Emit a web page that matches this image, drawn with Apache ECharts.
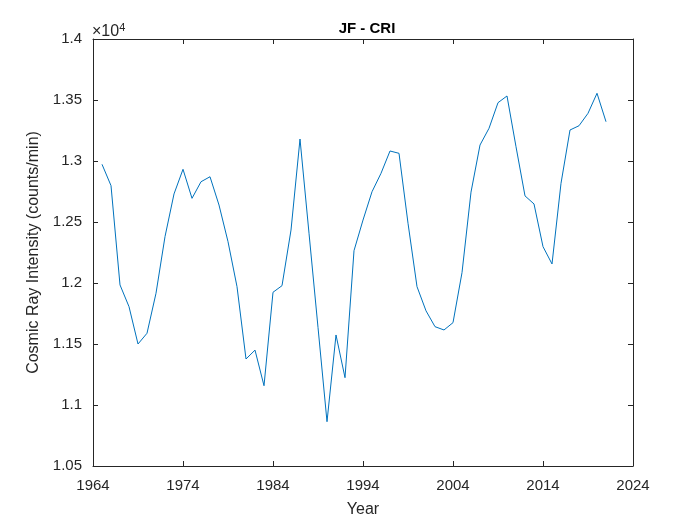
<!DOCTYPE html>
<html>
<head>
<meta charset="utf-8">
<script src="https://cdn.jsdelivr.net/npm/echarts@6/dist/echarts.min.js"></script>
<style>
  html, body { margin: 0; padding: 0; background: #fff; }
  #chart { width: 700px; height: 525px; }
</style>
</head>
<body>
<div id="chart"></div>
<script>
// yearly values, counts/min
const years = [
  1965, 1966, 1967, 1968, 1969, 1970, 1971, 1972, 1973, 1974,
  1975, 1976, 1977, 1978, 1979, 1980, 1981, 1982, 1983, 1984,
  1985, 1986, 1987, 1988, 1989, 1990, 1991, 1992, 1993, 1994,
  1995, 1996, 1997, 1998, 1999, 2000, 2001, 2002, 2003, 2004,
  2005, 2006, 2007, 2008, 2009, 2010, 2011, 2012, 2013, 2014,
  2015, 2016, 2017, 2018, 2019, 2020, 2021
];
const cri = [
  12973, 12798, 11984, 11806, 11500, 11588, 11916, 12380, 12730, 12932,
  12694, 12830, 12871, 12639, 12339, 11970, 11377, 11450, 11158, 11924,
  11978, 12434, 13180, 12408, 11636, 10863, 11574, 11224, 12265, 12516,
  12748, 12899, 13082, 13063, 12490, 11970, 11772, 11642, 11615, 11675,
  12085, 12745, 13131, 13268, 13478, 13533, 13117, 12714, 12648, 12298,
  12156, 12817, 13254, 13289, 13391, 13555, 13322
];

const font = 'Liberation Sans, Arial, sans-serif';
const axisLine = { show: true, lineStyle: { color: '#262626', width: 1 } };
const tick = { show: true, inside: true, length: 5, lineStyle: { color: '#262626', width: 1 } };

let chart = echarts.init(document.getElementById('chart'));

chart.setOption({
    backgroundColor: '#fff',
    animation: false,
    title: {
        text: 'JF - CRI',
        left: 362,
        top: 16,
        textAlign: 'center',
        textStyle: { fontFamily: font, fontSize: 15, fontWeight: 'bold', color: '#000' }
    },
    grid: { left: 93, right: 67, top: 39, bottom: 59 },
    graphic: [{
        type: 'text',
        left: 92,
        top: 22,
        style: {
            text: '{a|×10}{b|4}',
            rich: {
                a: { fontFamily: font, fontSize: 16, fill: '#262626' },
                b: { fontFamily: font, fontSize: 11, fill: '#262626', verticalAlign: 'top', padding: [0, 0, 9, 0] }
            }
        }
    }],
    xAxis: [{
        type: 'value',
        min: 1964,
        max: 2024,
        interval: 10,
        name: 'Year',
        nameLocation: 'middle',
        nameGap: 36,
        nameTextStyle: { fontFamily: font, fontSize: 16, color: '#262626' },
        axisLine: axisLine,
        axisTick: tick,
        splitLine: { show: false },
        axisLabel: { fontFamily: font, fontSize: 15, color: '#262626', margin: 12, formatter: v => String(v) }
    }, {
        type: 'value',
        position: 'top',
        min: 1964,
        max: 2024,
        interval: 10,
        axisLine: axisLine,
        axisTick: tick,
        splitLine: { show: false },
        axisLabel: { show: false }
    }],
    yAxis: [{
        type: 'value',
        min: 10500,
        max: 14000,
        interval: 500,
        name: 'Cosmic Ray Intensity (counts/min)',
        nameLocation: 'middle',
        nameGap: 48,
        nameTextStyle: { fontFamily: font, fontSize: 16, color: '#262626' },
        axisLine: axisLine,
        axisTick: tick,
        splitLine: { show: false },
        axisLabel: {
            fontFamily: font, fontSize: 15, color: '#262626', margin: 11,
            formatter: v => String(+(v / 10000).toFixed(2))
        }
    }, {
        type: 'value',
        position: 'right',
        min: 10500,
        max: 14000,
        interval: 500,
        axisLine: axisLine,
        axisTick: tick,
        splitLine: { show: false },
        axisLabel: { show: false }
    }],
    series: [{
        type: 'line',
        data: years.map((y, i) => [y, cri[i]]),
        showSymbol: false,
        lineStyle: { color: '#0072BD', width: 1 },
        silent: true
    }]
});
</script>
</body>
</html>
